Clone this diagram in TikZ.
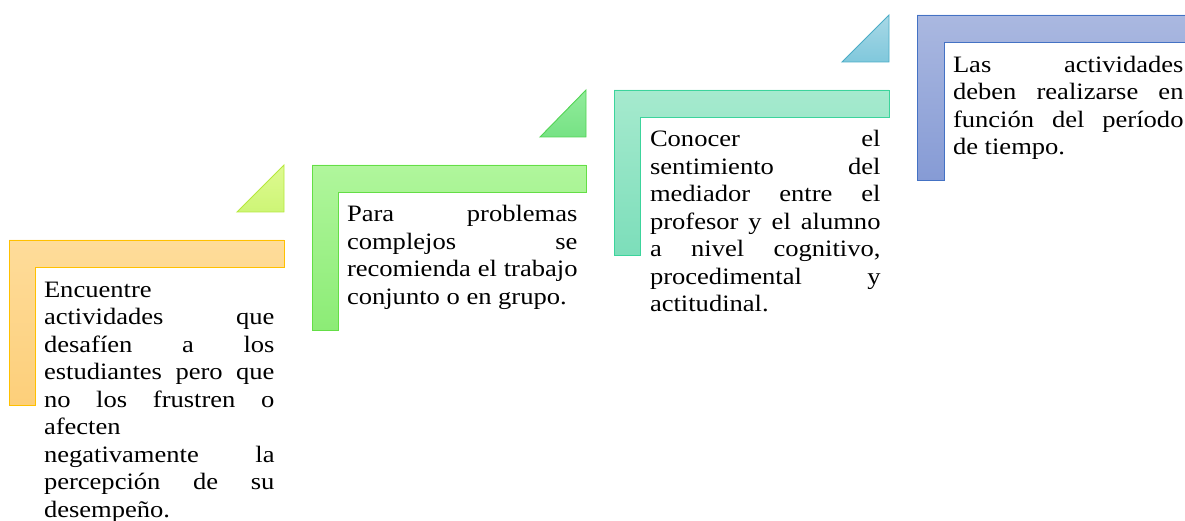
\documentclass[tikz,border=0pt]{standalone}
\usepackage{fontspec}
\setmainfont{Liberation Serif}
\usepackage{graphicx}
\definecolor{oTop}{RGB}{254,220,154}
\definecolor{oBot}{RGB}{253,207,122}
\definecolor{oLn}{RGB}{255,192,0}
\definecolor{ygTop}{RGB}{222,250,145}
\definecolor{ygBot}{RGB}{205,245,118}
\definecolor{ygLn}{RGB}{182,232,60}
\definecolor{gTop}{RGB}{176,246,156}
\definecolor{gBot}{RGB}{140,236,118}
\definecolor{gLn}{RGB}{100,222,70}
\definecolor{g2Top}{RGB}{146,236,156}
\definecolor{g2Bot}{RGB}{118,226,132}
\definecolor{g2Ln}{RGB}{82,212,84}
\definecolor{tTop}{RGB}{166,234,206}
\definecolor{tBot}{RGB}{124,222,186}
\definecolor{tLn}{RGB}{60,212,156}
\definecolor{cTop}{RGB}{168,216,230}
\definecolor{cBot}{RGB}{128,200,220}
\definecolor{cLn}{RGB}{75,172,198}
\definecolor{bTop}{RGB}{170,184,224}
\definecolor{bBot}{RGB}{134,155,213}
\definecolor{bLn}{RGB}{68,114,196}
\newcommand\jline[1]{\makebox[\linewidth][s]{#1}}
\newcommand\steptext[1]{\scalebox{1.13}[1]{\parbox[t]{204pt}{\fontsize{23.5pt}{27.5pt}\selectfont\setlength\parindent{0pt}#1}}}
\begin{document}
\begin{tikzpicture}[x=1pt,y=-1pt,
  shp/.style={line width=0.9pt, line join=miter},
  txt/.style={anchor=base west, inner sep=0pt, outer sep=0pt}]
\useasboundingbox (0,0) rectangle (1185,521);
\clip (0,0) rectangle (1185,521);
% step 1
\path[shp, draw=oLn, top color=oTop, bottom color=oBot]
  (9,240) -- (284,240) -- (284,267) -- (35,267) -- (35,405) -- (9,405) -- cycle;
\path[shp, draw=ygLn, top color=ygTop, bottom color=ygBot]
  (284,165) -- (284,212) -- (237,212) -- cycle;
% step 2
\path[shp, draw=gLn, top color=gTop, bottom color=gBot]
  (312,165) -- (586,165) -- (586,192) -- (338,192) -- (338,330) -- (312,330) -- cycle;
\path[shp, draw=g2Ln, top color=g2Top, bottom color=g2Bot]
  (586,90) -- (586,137) -- (540,137) -- cycle;
% step 3
\path[shp, draw=tLn, top color=tTop, bottom color=tBot]
  (614,90) -- (889,90) -- (889,117) -- (640,117) -- (640,255) -- (614,255) -- cycle;
\path[shp, draw=cLn, top color=cTop, bottom color=cBot]
  (889,15) -- (889,62) -- (842,62) -- cycle;
% step 4
\path[shp, draw=bLn, top color=bTop, bottom color=bBot]
  (917,15) -- (1192,15) -- (1192,42) -- (944,42) -- (944,180) -- (917,180) -- cycle;
% texts
\node[txt] (t1) at (44,297) {\steptext{Encuentre\\
\jline{actividades que}\\
\jline{desafíen a los}\\
\jline{estudiantes pero que}\\
\jline{no los frustren o}\\
afecten\\
\jline{negativamente la}\\
\jline{percepción de su}\\
desempeño.}};
\node[txt] (t2) at (347,222) {\steptext{\jline{Para problemas}\\
\jline{complejos se}\\
\jline{recomienda el trabajo}\\
conjunto o en grupo.}};
\node[txt] (t3) at (650,147) {\steptext{\jline{Conocer el}\\
\jline{sentimiento del}\\
\jline{mediador entre el}\\
\jline{profesor y el alumno}\\
\jline{a nivel cognitivo,}\\
\jline{procedimental y}\\
actitudinal.}};
\node[txt] (t4) at (953,72.5) {\steptext{\jline{Las actividades}\\
\jline{deben realizarse en}\\
\jline{función del período}\\
de tiempo.}};
\end{tikzpicture}
\end{document}
